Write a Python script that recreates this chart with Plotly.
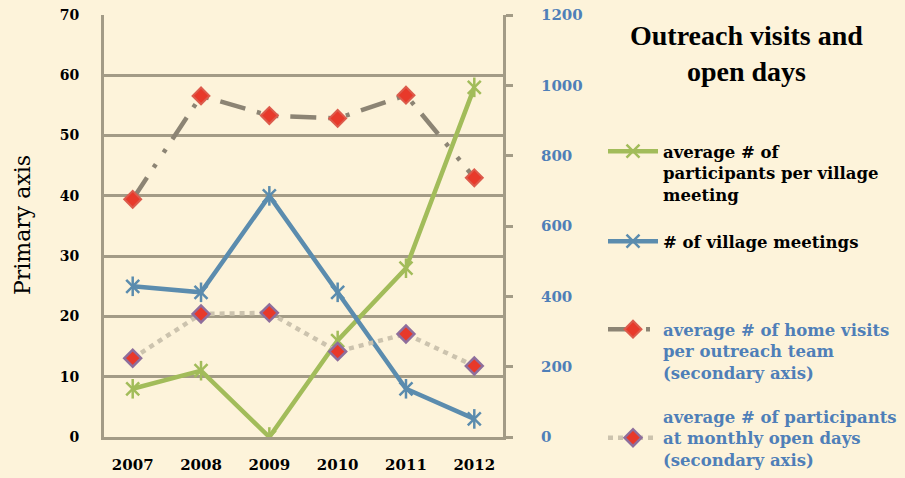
import plotly.graph_objects as go

years = ["2007", "2008", "2009", "2010", "2011", "2012"]
participants_per_meeting = [8, 11, 0, 16, 28, 58]
village_meetings = [25, 24, 40, 24, 8, 3]
home_visits = [676, 970, 914, 906, 972, 737]
open_day_participants = [224, 350, 353, 243, 293, 202]

left_ticks = [0, 10, 20, 30, 40, 50, 60, 70]
right_ticks = [0, 200, 400, 600, 800, 1000, 1200]

names = [
    "<b>average # of<br>participants per village<br>meeting</b>",
    "<b># of village meetings</b>",
    "<b>average # of home visits<br>per outreach team<br>(secondary axis)</b>",
    "<b>average # of participants<br>at monthly open days<br>(secondary axis)</b>",
]

BG = "#FDF3DA"
GRID = "#A39B86"
GREEN = "#A2BC5A"
BLUE = "#5B8CAE"
TEXTBLUE = "#4F7FB8"
LEGEND_FONT = "DejaVu Serif"

fig = go.Figure()

fig.add_trace(go.Scatter(
    x=years, y=participants_per_meeting, name=names[0], mode="lines+markers",
    line=dict(color=GREEN, width=4.5),
    marker=dict(symbol="x-thin-open", size=13, color=GREEN, line=dict(color=GREEN, width=2.5)),
    legend="legend",
))
fig.add_trace(go.Scatter(
    x=years, y=participants_per_meeting, mode="markers", showlegend=False,
    marker=dict(symbol="line-ns-open", size=14, color=GREEN, line=dict(color=GREEN, width=2.5)),
))
fig.add_trace(go.Scatter(
    x=years, y=village_meetings, name=names[1], mode="lines+markers",
    line=dict(color=BLUE, width=4.5),
    marker=dict(symbol="x-thin-open", size=13, color=BLUE, line=dict(color=BLUE, width=2.5)),
    legend="legend2",
))
fig.add_trace(go.Scatter(
    x=years, y=village_meetings, mode="markers", showlegend=False,
    marker=dict(symbol="line-ns-open", size=14, color=BLUE, line=dict(color=BLUE, width=2.5)),
))
fig.add_trace(go.Scatter(
    x=years, y=home_visits, name=names[2], mode="lines+markers", yaxis="y2",
    line=dict(color="#8C8474", width=4.5, dash="26px,12px,4px,14px,4px,12px"),
    marker=dict(symbol="diamond", size=13, color="#E8392A", line=dict(color="#DC5B4C", width=2)),
    legend="legend3",
))
fig.add_trace(go.Scatter(
    x=years, y=open_day_participants, name=names[3], mode="lines+markers", yaxis="y2",
    line=dict(color="#CCC3AE", width=4.5, dash="5px,5px"),
    marker=dict(symbol="diamond", size=13, color="#E8392A", line=dict(color="#8E6E9C", width=2.5)),
    legend="legend4",
))

W, H = 905, 478
L, R, T, B = 104, 402, 15, 41
pw, ph = W - L - R, H - T - B

def px_x(px):
    return (px - L) / pw

def px_y(py):
    return (H - B - py) / ph

legend_common = dict(
    x=px_x(603), xanchor="left", yanchor="top", bgcolor="rgba(0,0,0,0)", borderwidth=0,
    itemwidth=50,
)

fig.update_layout(
    width=W, height=H,
    margin=dict(l=L, r=R, t=T, b=B, autoexpand=False),
    paper_bgcolor=BG, plot_bgcolor=BG,
    xaxis=dict(
        type="category", showline=True, linecolor=GRID, linewidth=3,
        showgrid=False, ticks="", ticklabelstandoff=12,
        tickfont=dict(family="DejaVu Serif", size=15, color="black", weight="bold"),
    ),
    yaxis=dict(
        range=[0, 70], tickvals=left_ticks, showline=True, linecolor=GRID, linewidth=3,
        showgrid=True, gridcolor=GRID, gridwidth=2.5, zeroline=False, ticks="",
        ticklabelstandoff=19,
        tickfont=dict(family="DejaVu Serif", size=14, color="black", weight="bold"),
    ),
    yaxis2=dict(
        range=[0, 1200], tickvals=right_ticks, overlaying="y", side="right",
        showline=True, linecolor=GRID, linewidth=3, showgrid=False, zeroline=False,
        ticks="outside", ticklen=7, tickwidth=3, tickcolor=GRID, ticklabelstandoff=25,
        tickfont=dict(family="DejaVu Serif", size=15, color=TEXTBLUE, weight="bold"),
    ),
    legend=dict(y=px_y(134), valign="top", font=dict(family=LEGEND_FONT, size=16.5, color="black"), **legend_common),
    legend2=dict(y=px_y(224), valign="top", font=dict(family=LEGEND_FONT, size=16.5, color="black"), **legend_common),
    legend3=dict(y=px_y(312), valign="top", font=dict(family=LEGEND_FONT, size=16.5, color=TEXTBLUE), **legend_common),
    legend4=dict(y=px_y(399), valign="middle", font=dict(family=LEGEND_FONT, size=16.5, color=TEXTBLUE), **legend_common),
    annotations=[
        dict(text="<b>Outreach visits and<br>open days</b>", xref="paper", yref="paper",
             x=px_x(746), y=px_y(53), showarrow=False, xanchor="center", yanchor="middle",
             font=dict(family="Liberation Serif", size=28, color="black")),
        dict(text="Primary axis", xref="paper", yref="paper", textangle=-90,
             x=px_x(22), y=px_y(225), showarrow=False, xanchor="center", yanchor="middle",
             font=dict(family="DejaVu Serif", size=22, color="black")),
    ],
)

fig.write_html("out.html", config={"displayModeBar": False},
               post_script="document.body.style.margin='0';")
